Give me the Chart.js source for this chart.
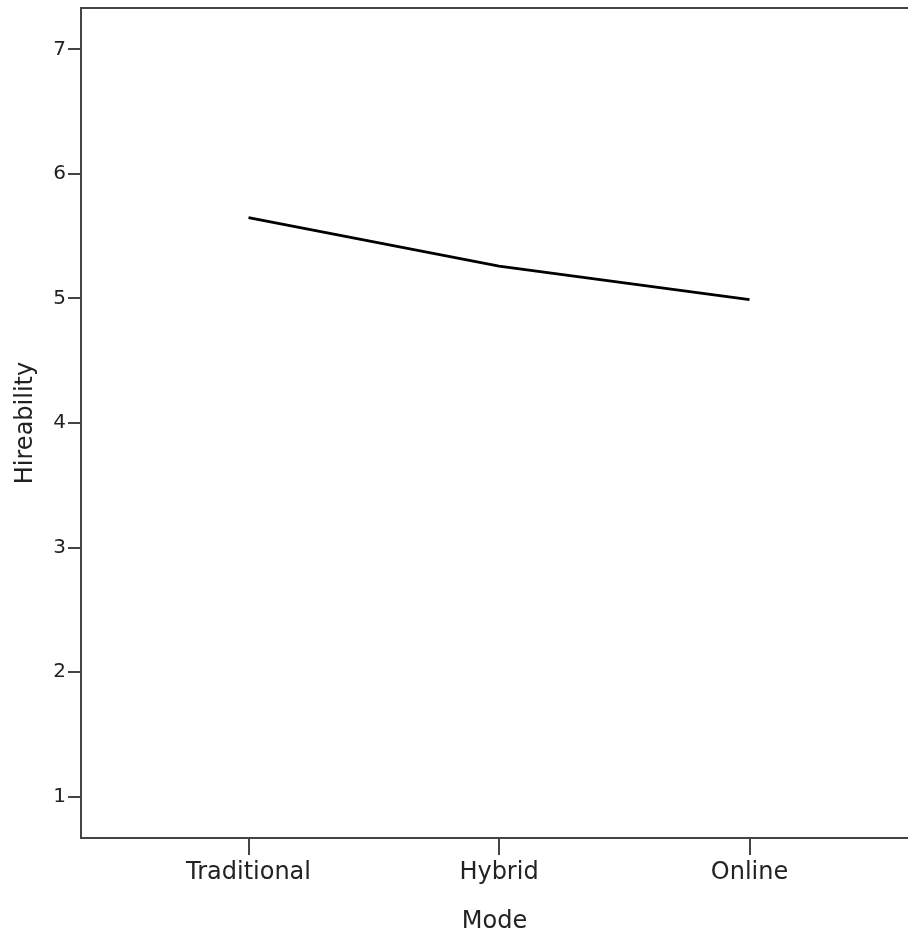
<!DOCTYPE html>
<html lang="en">
<head>
    <meta charset="UTF-8">
    <script src="https://cdn.jsdelivr.net/npm/chart.js"></script>
    <title>Hireability by Mode</title>
    <style>
        body { margin: 0; background: #fff; }
    </style>
</head>
<body>
    <div style="width:908px;height:936px">
        <canvas id="myChart" width="908" height="936"></canvas>
    </div>
<script>
    // data
    const modes = ['Traditional', 'Hybrid', 'Online'];
    const hireability = [5.65, 5.26, 4.99];
    const yTicks = [1, 2, 3, 4, 5, 6, 7];

    const axisColor = '#444';
    const font = 'DejaVu Sans';

    const points = modes.map((m, i) => ({ x: i, y: hireability[i] }));

    // stop label overflow from pushing the plot area around
    function noPad(s) {
        s.paddingTop = 0; s.paddingBottom = 0;
        s.paddingLeft = 0; s.paddingRight = 0;
    }

    const ctx = document.getElementById('myChart');
    new Chart(ctx, {
        type: 'line',
        data: {
            datasets: [{
                label: 'Hireability',
                data: points,
                borderColor: '#000',
                borderWidth: 2.8,
                pointRadius: 0,
                tension: 0,
                fill: false
            }]
        },
        options: {
            responsive: false,
            animation: false,
            devicePixelRatio: 1,
            layout: { padding: 0 },
            plugins: {
                legend: { display: false },
                tooltip: { enabled: false }
            },
            scales: {
                x: {
                    type: 'linear',
                    position: 'bottom',
                    min: -0.6687,
                    max: 2.6327,
                    afterFit: (s) => { s.height = 98; noPad(s); },
                    afterBuildTicks: (s) => { s.ticks = modes.map((m, i) => ({ value: i })); },
                    grid: { drawOnChartArea: false, drawTicks: true, tickLength: 17, color: axisColor, lineWidth: 2 },
                    border: { display: true, color: axisColor, width: 2 },
                    ticks: {
                        callback: (v) => modes[v],
                        color: '#222',
                        padding: 3,
                        maxRotation: 0,
                        font: { family: font, size: 24 }
                    },
                    title: {
                        display: true,
                        text: 'Mode',
                        color: '#222',
                        padding: { top: 3, bottom: 0 },
                        font: { family: font, size: 24 }
                    }
                },
                xTop: {
                    type: 'linear',
                    position: 'top',
                    min: 0,
                    max: 1,
                    afterFit: (s) => { s.height = 8; noPad(s); },
                    grid: { drawOnChartArea: false, drawTicks: false },
                    border: { display: true, color: axisColor, width: 2 },
                    ticks: { display: false }
                },
                y: {
                    type: 'linear',
                    min: 0.667,
                    max: 7.333,
                    afterFit: (s) => { s.width = 81; noPad(s); },
                    afterBuildTicks: (s) => { s.ticks = yTicks.map((v) => ({ value: v })); },
                    grid: { drawOnChartArea: false, drawTicks: true, tickLength: 13, color: axisColor, lineWidth: 2 },
                    border: { display: true, color: axisColor, width: 2 },
                    ticks: {
                        color: '#222',
                        padding: 2,
                        font: { family: font, size: 20 }
                    },
                    title: {
                        display: true,
                        text: 'Hireability',
                        color: '#222',
                        padding: { top: 11, bottom: 0 },
                        font: { family: font, size: 24 }
                    }
                }
            }
        }
    });
</script>
</body>
</html>
